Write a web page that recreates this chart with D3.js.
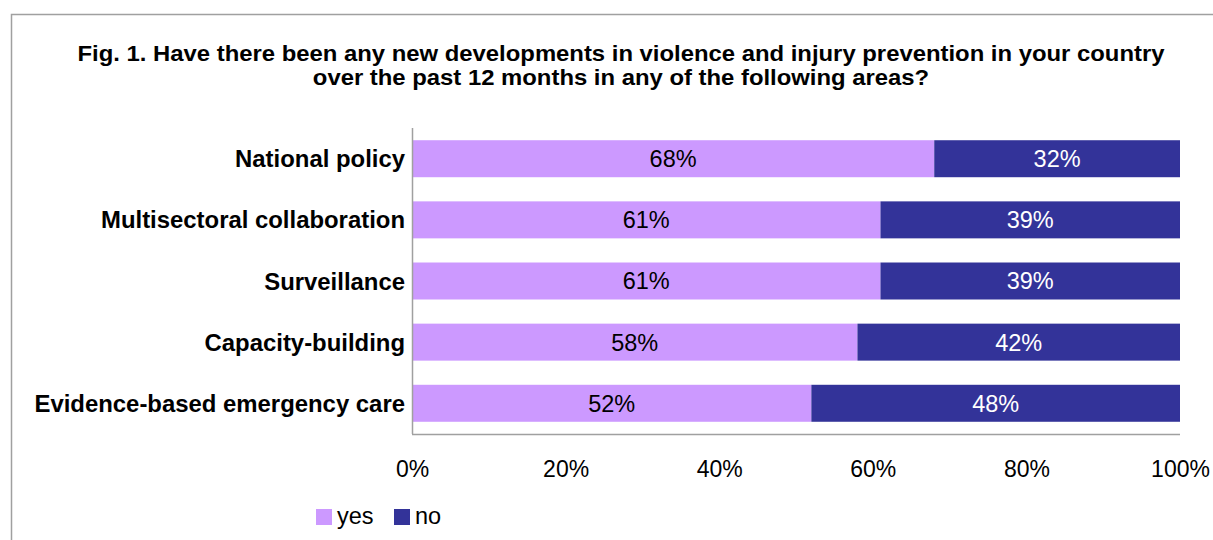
<!DOCTYPE html>
<html>
<head>
<meta charset="utf-8">
<script src="https://cdn.jsdelivr.net/npm/d3@7"></script>
<style>
  html, body { margin: 0; padding: 0; background: #fff; }
  svg { display: block; font-family: Arial, "Liberation Sans", sans-serif; }
</style>
</head>
<body>
<svg id="chart" width="1213" height="540"></svg>
<script>
// Survey responses per area (percent of countries)
const categories = [
  "National policy",
  "Multisectoral collaboration",
  "Surveillance",
  "Capacity-building",
  "Evidence-based emergency care"
];
const yesValues = [68, 61, 61, 58, 52];
const noValues = [32, 39, 39, 42, 48];
const seriesNames = ["yes", "no"];
const seriesColors = ["#CC99FF", "#333399"];
const tickValues = [0, 20, 40, 60, 80, 100];
const titleLines = [
  "Fig. 1. Have there been any new developments in violence and injury prevention in your country",
  "over the past 12 months in any of the following areas?"
];

const FONT = "Arial, 'Liberation Sans', sans-serif";
const svg = d3.select("#chart");

// outer frame
svg.append("path")
  .attr("d", "M11.5,540 V14.5 H1213")
  .attr("fill", "none")
  .attr("stroke", "#a0a0a0")
  .attr("stroke-width", 1.5);

// title (slightly widened glyphs)
svg.append("g")
  .attr("transform", "translate(621,0) scale(1.11,1)")
  .selectAll("text").data(titleLines).join("text")
  .attr("x", 0)
  .attr("y", (d, i) => 61 + i * 24)
  .attr("text-anchor", "middle")
  .attr("font-size", 21.5)
  .attr("font-weight", "bold")
  .attr("fill", "#000")
  .text(d => d);

const plot = { left: 412, right: 1180, top: 128, bottom: 434 };

const x = d3.scaleLinear().domain([0, 100]).range([plot.left, plot.right]);
const y = d3.scaleBand().domain(categories).range([plot.top, plot.bottom]).paddingInner(0.395).paddingOuter(0.2);

const rows = categories.map((c, i) => ({ cat: c, yes: yesValues[i], no: noValues[i] }));
const stack = d3.stack().keys(seriesNames)(rows);

const g = svg.append("g");
stack.forEach((layer, li) => {
  g.append("g").selectAll("rect").data(layer).join("rect")
    .attr("x", d => x(d[0]))
    .attr("y", d => y(d.data.cat))
    .attr("width", d => x(d[1]) - x(d[0]))
    .attr("height", y.bandwidth())
    .attr("fill", seriesColors[li]);
  g.append("g").selectAll("text").data(layer).join("text")
    .attr("x", d => (x(d[0]) + x(d[1])) / 2)
    .attr("y", d => y(d.data.cat) + y.bandwidth() / 2)
    .attr("dy", "0.36em")
    .attr("text-anchor", "middle")
    .attr("font-size", 23.5)
    .attr("fill", li === 0 ? "#000" : "#fff")
    .text(d => (d[1] - d[0]) + "%");
});

// axes
const yAxis = svg.append("g").attr("transform", `translate(${plot.left},0)`)
  .call(d3.axisLeft(y).tickSize(0).tickPadding(7));
yAxis.select(".domain").remove();
yAxis.selectAll("text").attr("font-size", 23.9).attr("font-weight", "bold").attr("fill", "#000")
  .attr("font-family", FONT).attr("dy", "0.36em");

svg.append("line")
  .attr("x1", plot.left + 0.5).attr("x2", plot.left + 0.5)
  .attr("y1", plot.top).attr("y2", plot.bottom)
  .attr("stroke", "#a0a0a0").attr("stroke-width", 1.5);

const xAxis = svg.append("g").attr("transform", `translate(0,${plot.bottom})`)
  .call(d3.axisBottom(x).tickValues(tickValues).tickSize(0).tickFormat(d => d + "%"));
xAxis.select(".domain").remove();
xAxis.selectAll("text").attr("font-size", 23).attr("fill", "#000")
  .attr("font-family", FONT).attr("y", 43).attr("dy", 0);

svg.append("line")
  .attr("x1", plot.left).attr("x2", plot.right)
  .attr("y1", plot.bottom + 0.5).attr("y2", plot.bottom + 0.5)
  .attr("stroke", "#a0a0a0").attr("stroke-width", 1.5);

// legend
const legendX = [316, 394];
const legend = svg.append("g");
seriesNames.forEach((name, i) => {
  legend.append("rect")
    .attr("x", legendX[i]).attr("y", 509)
    .attr("width", 16).attr("height", 16)
    .attr("fill", seriesColors[i]);
  legend.append("text")
    .attr("x", legendX[i] + 21).attr("y", 524)
    .attr("font-size", 23.5)
    .attr("fill", "#000")
    .text(name);
});
</script>
</body>
</html>
